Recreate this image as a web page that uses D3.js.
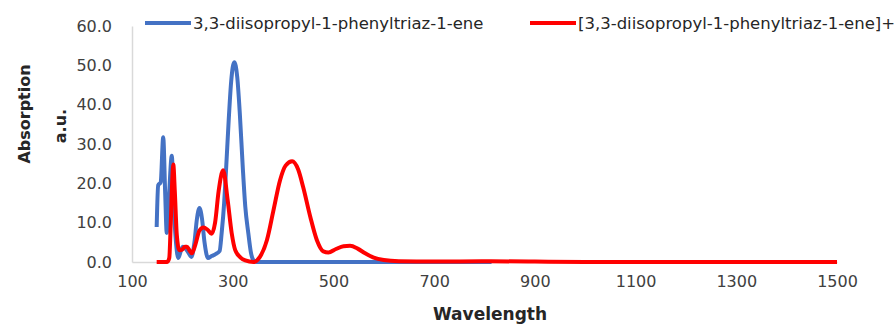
<!DOCTYPE html>
<meta charset="utf-8">
<style>
body { margin: 0; background: #fff; }
text { font-family: "DejaVu Sans", sans-serif; }
.tick text { fill: #404040; font-size: 16px; }
.title { fill: #262626; font-weight: bold; }
.legend text { fill: #262626; font-size: 16.5px; }
</style>
<svg width="896" height="326"></svg>
<script src="https://cdnjs.cloudflare.com/ajax/libs/d3/7.8.5/d3.min.js"></script>
<script>

var seriesNames = ["3,3-diisopropyl-1-phenyltriaz-1-ene", "[3,3-diisopropyl-1-phenyltriaz-1-ene]+"];
var seriesColors = ["#4472C4", "#FF0000"];

// neutral molecule
var neutralWl  = [149, 152, 157, 162, 166, 169, 174, 179, 183, 187, 192, 197, 201, 206, 211, 218, 224, 229, 234, 239, 244, 251, 258, 266, 274, 278, 283, 287, 292, 297, 303, 309, 314, 320, 325, 331, 336, 341, 348, 400, 500, 600, 700, 814];
var neutralAbs = [8.9, 19.5, 20.3, 31.7, 17, 7.4, 18, 27, 14, 5.6, 1.0, 2.8, 3.9, 3.5, 2.6, 1.3, 5, 11, 13.7, 11, 5, 1.0, 1.5, 2.0, 2.8, 7.3, 15, 24, 36, 46, 50.8, 47, 38, 24, 14, 7.3, 2.5, 0.5, 0, 0, 0, 0, 0, 0];

// cation
var cationWl  = [149, 160, 170, 174, 177, 180, 182, 185, 189, 194, 200, 205, 209, 214, 219, 226, 234, 242, 250, 258, 265, 272, 281, 290, 298, 305, 315, 325, 341, 354, 368, 381, 394, 405, 418, 430, 440, 454, 467, 480, 490, 505, 520, 533, 548, 563, 580, 600, 630, 700, 800, 900, 1000, 1200, 1500];
var cationAbs = [0, 0, 0, 1, 10, 21, 24.8, 18, 6.8, 3.0, 3.2, 3.9, 3.9, 3.0, 2.2, 4.5, 8, 8.8, 8.2, 7.2, 10, 18, 23.3, 15.7, 7.3, 3, 1.2, 0.4, 0, 1.3, 5.6, 13.2, 20.8, 24.5, 25.6, 23.5, 19, 11.5, 5.6, 2.7, 2.4, 3.3, 4.0, 4.1, 3.4, 2.2, 1.1, 0.5, 0.2, 0.1, 0.2, 0.1, 0, 0, 0];

var xTicks = [100, 300, 500, 700, 900, 1100, 1300, 1500];
var yTicks = [0, 10, 20, 30, 40, 50, 60];

var svg = d3.select("svg");

var x = d3.scaleLinear().domain([100, 1500]).range([132, 837]);
var y = d3.scaleLinear().domain([0, 60]).range([262, 26]);

// axes
var xAxis = svg.append("g")
    .attr("transform", "translate(0," + y(0) + ")")
    .call(d3.axisBottom(x).tickValues(xTicks).tickSize(0).tickPadding(14).tickFormat(d3.format("d")));
xAxis.select(".domain").attr("stroke", "#d9d9d9").attr("stroke-width", 1.5);

var yAxis = svg.append("g")
    .attr("transform", "translate(" + x(100) + ",0)")
    .call(d3.axisLeft(y).tickValues(yTicks).tickSize(0).tickPadding(20).tickFormat(d3.format(".1f")));
yAxis.select(".domain").attr("stroke", "#d9d9d9").attr("stroke-width", 1.5);

svg.selectAll(".tick text").attr("font-family", null);

// lines
var line = d3.line()
    .x(function(d) { return x(d[0]); })
    .y(function(d) { return y(d[1]); })
    .curve(d3.curveMonotoneX);

var series = [
  d3.zip(neutralWl, neutralAbs),
  d3.zip(cationWl, cationAbs)
];

svg.append("g").selectAll("path")
  .data(series)
  .enter().append("path")
    .attr("d", line)
    .attr("fill", "none")
    .attr("stroke", function(d, i) { return seriesColors[i]; })
    .attr("stroke-width", 4)
    .attr("stroke-linejoin", "round");

// axis titles
svg.append("text")
    .attr("class", "title")
    .attr("transform", "translate(30,114) rotate(-90)")
    .attr("text-anchor", "middle")
    .attr("font-size", 16)
    .text("Absorption");
svg.append("text")
    .attr("class", "title")
    .attr("transform", "translate(66,126) rotate(-90)")
    .attr("text-anchor", "middle")
    .attr("font-size", 16)
    .text("a.u.");
svg.append("text")
    .attr("class", "title")
    .attr("x", 490)
    .attr("y", 320)
    .attr("text-anchor", "middle")
    .attr("font-size", 17)
    .text("Wavelength");

// legend
var legendX = [145, 530];
var legend = svg.append("g").attr("class", "legend")
  .selectAll("g")
  .data(seriesNames)
  .enter().append("g")
    .attr("transform", function(d, i) { return "translate(" + legendX[i] + ",23)"; });
legend.append("line")
    .attr("x1", 0).attr("x2", 46)
    .attr("stroke", function(d, i) { return seriesColors[i]; })
    .attr("stroke-width", 4);
legend.append("text")
    .attr("x", 48)
    .attr("dy", "0.35em")
    .text(function(d) { return d; });

</script>
